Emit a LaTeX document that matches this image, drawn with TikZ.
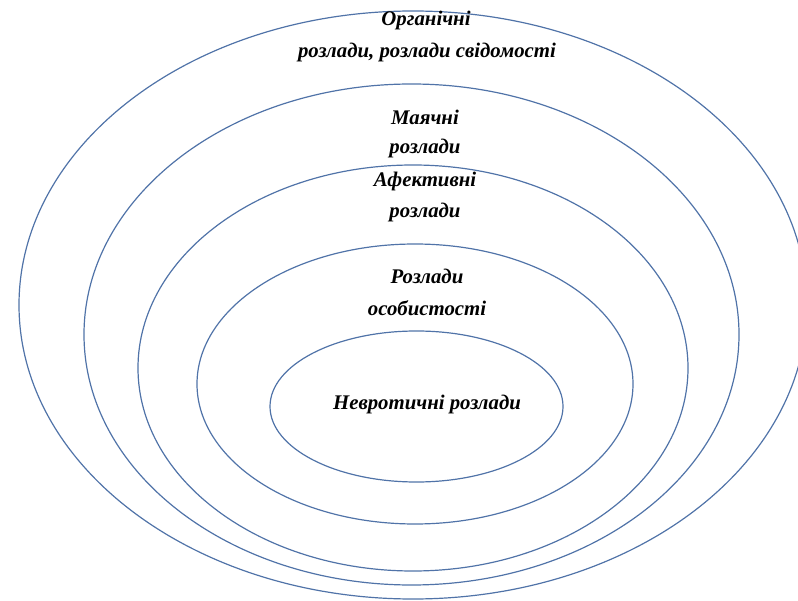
\documentclass[tikz,border=0pt]{standalone}
\usepackage{fontspec}
\setmainfont{Liberation Serif}
\definecolor{ringblue}{HTML}{5073A8}
\begin{document}
\begin{tikzpicture}[x=1pt,y=-1pt,
  ring/.style={draw=ringblue,line width=1.2pt},
  lbl/.style={font=\bfseries\itshape\fontsize{20.8}{32}\selectfont,align=center,inner sep=0pt,text=black}]
\useasboundingbox (0,0) rectangle (798,601);
\begin{scope}
\clip (0,0) rectangle (798,601);
\draw[ring] (413,305) ellipse [x radius=394,y radius=294];
\end{scope}
\draw[ring] (411.5,334.5) ellipse [x radius=327.5,y radius=250.5];
\draw[ring] (413,368) ellipse [x radius=275,y radius=203];
\draw[ring] (415,384) ellipse [x radius=218,y radius=140];
\draw[ring] (416.5,406.5) ellipse [x radius=146.5,y radius=75.5];
\node[lbl] (o1) at (426,21) {Органічні};
\node[lbl] (o2) at (427,53) {розлади, розлади свідомості};
\node[lbl] (m1) at (425,117) {Маячні};
\node[lbl] (m2) at (425,149) {розлади};
\node[lbl] (a1) at (425,182) {Афективні};
\node[lbl] (a2) at (425,213) {розлади};
\node[lbl] (r1) at (427,276) {Розлади};
\node[lbl] (r2) at (427,308) {особистості};
\node[lbl] (n1) at (427,404) {Невротичні розлади};
\end{tikzpicture}
\end{document}
